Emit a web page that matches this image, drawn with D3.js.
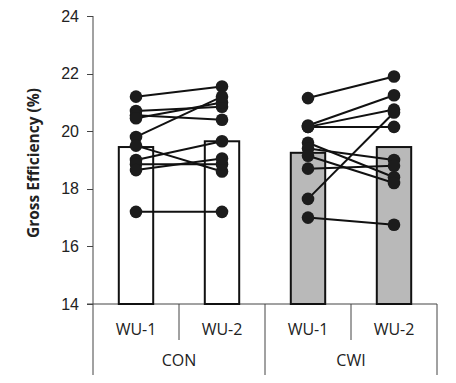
<!DOCTYPE html>
<meta charset="utf-8">
<style>
    body { margin: 0; background: #fff; }
    svg { font-family: "Open Sans", sans-serif; }
    .axis path, .axis line { fill: none; stroke: #444; shape-rendering: crispEdges; }
</style>
<body>
<script src="https://d3js.org/d3.v7.min.js"></script>
<script>
    // groups and sessions
    const groups = ["CON", "CWI"];
    const sessions = ["WU-1", "WU-2"];
    const yTicks = [14, 16, 18, 20, 22, 24];

    // bar heights (group means)
    const conMeans = [19.45, 19.65];
    const cwiMeans = [19.25, 19.45];

    // individual subjects, paired WU-1 -> WU-2
    const conWU1 = [21.2, 20.7, 20.55, 20.45, 19.8, 19.5, 19.0, 18.85, 18.65, 17.2];
    const conWU2 = [21.55, 20.85, 20.4, 21.0, 21.2, 18.6, 19.65, 18.85, 19.05, 17.2];
    const cwiWU1 = [21.15, 20.2, 20.15, 20.15, 19.6, 19.4, 19.15, 18.7, 17.65, 17.0];
    const cwiWU2 = [21.9, 21.25, 20.75, 20.15, 18.4, 19.0, 18.2, 18.8, 20.65, 16.75];

    const width = 456, height = 383;
    const plotLeft = 93, plotRight = 437, plotTop = 16, plotBottom = 304;

    const svg = d3.select("body").append("svg")
        .attr("width", width)
        .attr("height", height);

    const y = d3.scaleLinear().domain([14, 24]).range([plotBottom, plotTop]);
    const xGroup = d3.scaleBand().domain(groups).range([plotLeft, plotRight]);
    const xSession = d3.scaleBand().domain(sessions).range([0, xGroup.bandwidth()]);
    const barW = xSession.bandwidth() * 0.4;

    const means = {CON: conMeans, CWI: cwiMeans};
    const pairs = {
        CON: conWU1.map((v, i) => [v, conWU2[i]]),
        CWI: cwiWU1.map((v, i) => [v, cwiWU2[i]])
    };
    const fills = {CON: "#ffffff", CWI: "#b9b9b9"};

    const cx = (g, s) => xGroup(g) + xSession(s) + xSession.bandwidth() / 2;

    // y axis
    svg.append("g")
        .attr("class", "axis")
        .attr("transform", "translate(" + plotLeft + ",0)")
        .call(d3.axisLeft(y).tickValues(yTicks).tickSize(6).tickPadding(8).tickSizeOuter(0))
        .call(g => g.select(".domain").remove())
        .selectAll("text")
        .style("font-size", "16px")
        .style("fill", "#222");

    svg.append("line")
        .attr("x1", plotLeft).attr("x2", plotLeft)
        .attr("y1", plotTop).attr("y2", 375)
        .attr("stroke", "#444");

    svg.append("line")
        .attr("x1", plotLeft - 6).attr("x2", plotRight)
        .attr("y1", plotBottom).attr("y2", plotBottom)
        .attr("stroke", "#444");

    // bars
    groups.forEach(g => {
        svg.selectAll(".bar-" + g)
            .data(sessions)
            .enter().append("rect")
            .attr("x", s => cx(g, s) - barW / 2)
            .attr("y", (s, i) => y(means[g][i]))
            .attr("width", barW)
            .attr("height", (s, i) => plotBottom - y(means[g][i]))
            .attr("fill", fills[g])
            .attr("stroke", "#111")
            .attr("stroke-width", 2);
    });

    // subject lines and dots
    groups.forEach(g => {
        const x1 = cx(g, "WU-1"), x2 = cx(g, "WU-2");
        svg.selectAll(".ln-" + g)
            .data(pairs[g])
            .enter().append("line")
            .attr("x1", x1).attr("x2", x2)
            .attr("y1", d => y(d[0])).attr("y2", d => y(d[1]))
            .attr("stroke", "#111")
            .attr("stroke-width", 2);
        sessions.forEach((s, j) => {
            svg.selectAll(".dot-" + g + j)
                .data(pairs[g])
                .enter().append("circle")
                .attr("cx", cx(g, s))
                .attr("cy", d => y(d[j]))
                .attr("r", 6.3)
                .attr("fill", "#1c1c1c");
        });
    });

    // category separators below axis
    groups.forEach(g => {
        sessions.forEach((s, j) => {
            const xs = xGroup(g) + xSession(s) + xSession.bandwidth();
            svg.append("line")
                .attr("x1", xs).attr("x2", xs)
                .attr("y1", plotBottom).attr("y2", j === 0 ? 340 : 375)
                .attr("stroke", "#444");
            svg.append("text")
                .attr("x", cx(g, s))
                .attr("y", 335)
                .attr("text-anchor", "middle")
                .style("font-size", "16px")
                .style("fill", "#222")
                .text(s);
        });
        svg.append("text")
            .attr("x", xGroup(g) + xGroup.bandwidth() / 2)
            .attr("y", 366)
            .attr("text-anchor", "middle")
            .style("font-size", "16px")
            .style("fill", "#222")
            .text(g);
    });

    // y label
    svg.append("text")
        .attr("transform", "translate(39," + ((plotTop + plotBottom) / 2 + 3) + ") rotate(-90)")
        .attr("text-anchor", "middle")
        .style("font-size", "15.5px")
        .style("font-weight", "bold")
        .style("fill", "#222")
        .text("Gross Efficiency (%)");
</script>
</body>
</html>
